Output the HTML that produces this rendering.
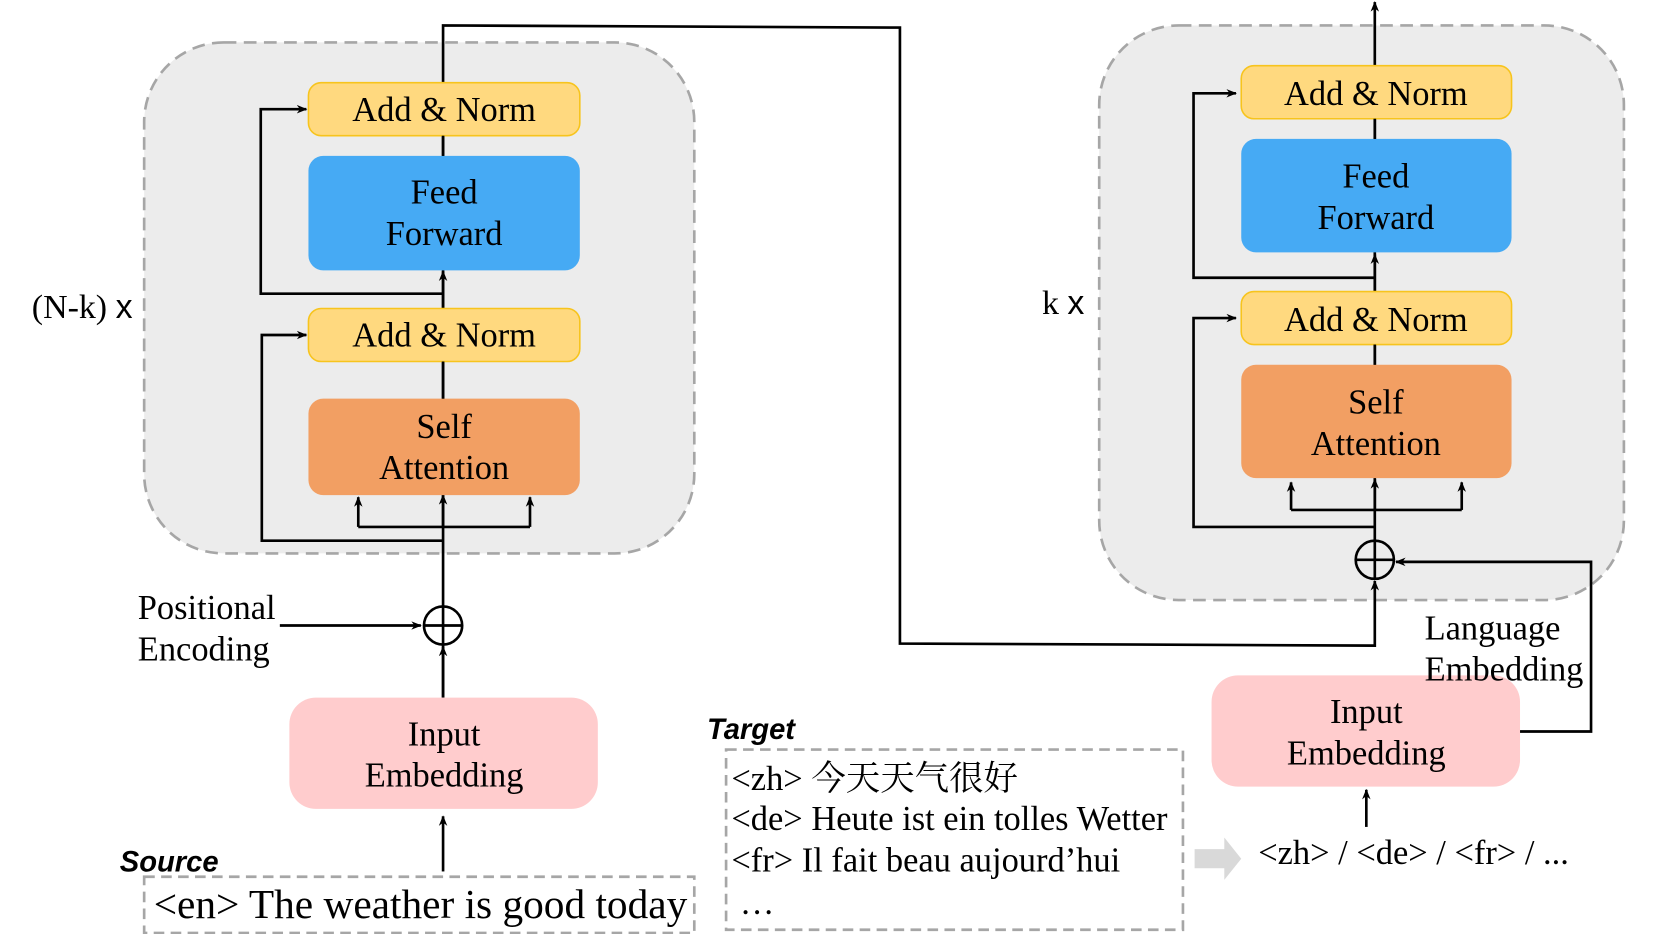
<!DOCTYPE html>
<html><head><meta charset="utf-8"><style>html,body{margin:0;padding:0;background:#fff}svg{display:block}</style></head><body>
<svg width="1661" height="934" viewBox="0 0 1567 881" preserveAspectRatio="none" xmlns="http://www.w3.org/2000/svg" font-family="'Liberation Serif', 'Noto Serif CJK SC', serif">
<defs><marker id="a" markerWidth="10" markerHeight="10" refX="9" refY="5" orient="auto" markerUnits="userSpaceOnUse"><path d="M0,1 L10,5 L0,9 L3,5 Z" fill="#000"/></marker></defs>
<rect x="136" y="40" width="519" height="482" rx="75" fill="#ececec" stroke="#a6a6a6" stroke-width="2.5" stroke-dasharray="12,7"/>
<rect x="1037" y="24" width="495" height="542" rx="75" fill="#ececec" stroke="#a6a6a6" stroke-width="2.5" stroke-dasharray="12,7"/>
<g stroke="#000" stroke-width="2.5" fill="none">
<polyline points="418,658 418,24 849,26 849,607 1297,609 1297,548" marker-end="url(#a)"/>
<polyline points="418,510 247,510 247,316 289,316" marker-end="url(#a)"/>
<polyline points="418,277 246,277 246,103 289,103" marker-end="url(#a)"/>
<polyline points="338,497 500,497"/>
<line x1="338" y1="497" x2="338" y2="469" marker-end="url(#a)"/>
<line x1="500" y1="497" x2="500" y2="469" marker-end="url(#a)"/>
<line x1="418" y1="497" x2="418" y2="467" marker-end="url(#a)"/>
<line x1="418" y1="291" x2="418" y2="256" marker-end="url(#a)"/>
<line x1="264" y1="590" x2="397" y2="590" marker-end="url(#a)"/>
<line x1="418" y1="822" x2="418" y2="770" marker-end="url(#a)"/>
<line x1="418" y1="658" x2="418" y2="610" marker-end="url(#a)"/>
<circle cx="418" cy="590" r="18"/><line x1="400" y1="590" x2="436" y2="590"/>
<line x1="1297" y1="510" x2="1297" y2="2" marker-end="url(#a)"/>
<polyline points="1297,497 1126,497 1126,300 1166,300" marker-end="url(#a)"/>
<polyline points="1297,262 1126,262 1126,88 1166,88" marker-end="url(#a)"/>
<polyline points="1218,481 1379,481"/>
<line x1="1218" y1="481" x2="1218" y2="455" marker-end="url(#a)"/>
<line x1="1379" y1="481" x2="1379" y2="455" marker-end="url(#a)"/>
<line x1="1297" y1="481" x2="1297" y2="452" marker-end="url(#a)"/>
<line x1="1297" y1="275" x2="1297" y2="240" marker-end="url(#a)"/>
<polyline points="1434,690 1501,690 1501,530 1317,530" marker-end="url(#a)"/>
<line x1="1289" y1="780" x2="1289" y2="745" marker-end="url(#a)"/>
<circle cx="1297" cy="528" r="18"/><line x1="1279" y1="528" x2="1315" y2="528"/><line x1="1297" y1="510" x2="1297" y2="546"/>
</g>
<rect x="291" y="78" width="256" height="50" rx="12" fill="#ffd97f" stroke="#f7c41d" stroke-width="1.5"/>
<rect x="291" y="147" width="256" height="108" rx="14" fill="#46aaf4"/>
<rect x="291" y="291" width="256" height="50" rx="12" fill="#ffd97f" stroke="#f7c41d" stroke-width="1.5"/>
<rect x="291" y="376" width="256" height="91" rx="14" fill="#f29f63"/>
<rect x="273" y="658" width="291" height="105" rx="25" fill="#ffcccd"/>
<rect x="1171" y="62" width="255" height="50" rx="12" fill="#ffd97f" stroke="#f7c41d" stroke-width="1.5"/>
<rect x="1171" y="131" width="255" height="107" rx="14" fill="#46aaf4"/>
<rect x="1171" y="275" width="255" height="50" rx="12" fill="#ffd97f" stroke="#f7c41d" stroke-width="1.5"/>
<rect x="1171" y="344" width="255" height="107" rx="14" fill="#f29f63"/>
<rect x="1143" y="637" width="291" height="105" rx="25" fill="#ffcccd"/>
<g stroke="#000" stroke-width="2.5"><line x1="418" y1="128" x2="418" y2="147"/><line x1="418" y1="341" x2="418" y2="376"/><line x1="1297" y1="112" x2="1297" y2="131"/><line x1="1297" y1="325" x2="1297" y2="344"/></g>
<g font-size="32.5" text-anchor="middle" fill="#000">
<text x="419" y="114">Add &amp; Norm</text>
<text x="419" y="192">Feed</text><text x="419" y="231">Forward</text>
<text x="419" y="327">Add &amp; Norm</text>
<text x="419" y="413">Self</text><text x="419" y="452">Attention</text>
<text x="419" y="703">Input</text><text x="419" y="742">Embedding</text>
<text x="1298" y="99">Add &amp; Norm</text>
<text x="1298" y="177">Feed</text><text x="1298" y="216">Forward</text>
<text x="1298" y="312">Add &amp; Norm</text>
<text x="1298" y="390">Self</text><text x="1298" y="429">Attention</text>
<text x="1289" y="682">Input</text><text x="1289" y="721">Embedding</text>
</g>
<g font-size="32.5" fill="#000">
<text x="130" y="584">Positional</text><text x="130" y="623">Encoding</text>
<text x="1344" y="603">Language</text><text x="1344" y="642">Embedding</text>
<text x="30" y="300" font-size="32">(N-k) <tspan font-family="'Liberation Sans',sans-serif">x</tspan></text>
<text x="983" y="296" font-size="32">k <tspan font-family="'Liberation Sans',sans-serif">x</tspan></text>
<text x="690" y="745">&lt;zh&gt; 今天天气很好</text>
<text x="690" y="783">&lt;de&gt; Heute ist ein tolles Wetter</text>
<text x="690" y="822">&lt;fr&gt; Il fait beau aujourd’hui</text>
<text x="698" y="862">…</text>
<text x="1187" y="815">&lt;zh&gt; / &lt;de&gt; / &lt;fr&gt; / ...</text>
<text x="145" y="866" font-size="39">&lt;en&gt; The weather is good today</text>
</g>
<g font-family="'Liberation Sans',sans-serif" font-style="italic" font-weight="bold" font-size="27.5" fill="#000">
<text x="113" y="822">Source</text><text x="667" y="697">Target</text>
</g>
<rect x="136" y="827" width="519" height="53" fill="none" stroke="#a6a6a6" stroke-width="2.5" stroke-dasharray="10,6"/>
<rect x="685" y="707" width="431" height="170" fill="none" stroke="#a6a6a6" stroke-width="2.5" stroke-dasharray="10,6"/>
<path d="M1127,801 L1155,801 L1155,790 L1171,810 L1155,830 L1155,819 L1127,819 Z" fill="#d9d9d9"/>
</svg>
</body></html>
